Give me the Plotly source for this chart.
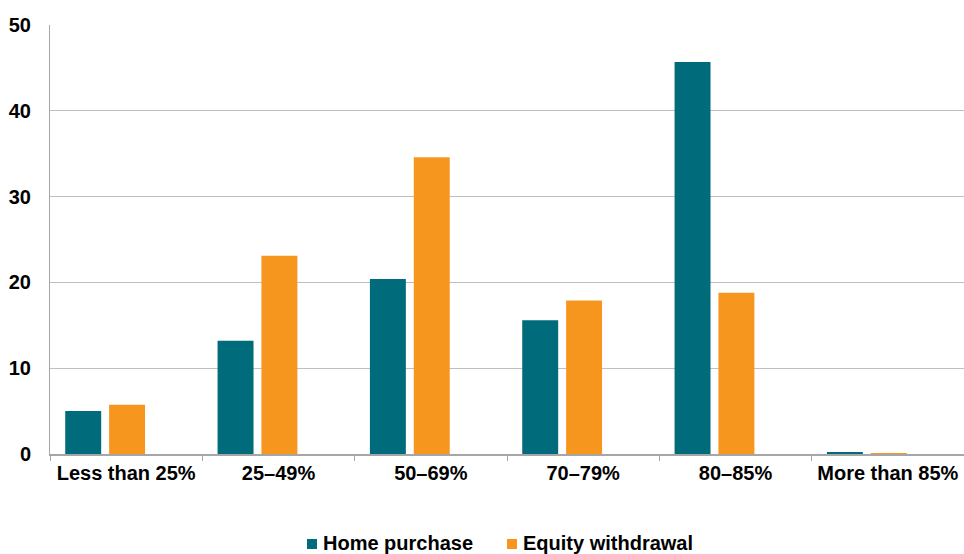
import plotly.graph_objects as go

# Loan-to-valuation ratio bands and share of loans (%)
categories = ["Less than 25%", "25–49%", "50–69%", "70–79%", "80–85%", "More than 85%"]
home_purchase = [5.0, 13.2, 20.4, 15.6, 45.7, 0.2]
equity_withdrawal = [5.75, 23.1, 34.6, 17.9, 18.8, 0.1]
y_ticks = [0, 10, 20, 30, 40, 50]
series_names = ["Home purchase", "Equity withdrawal"]

TEAL = "#006B7B"
ORANGE = "#F7961E"
FONT = "Liberation Sans, Arial, sans-serif"

fig = go.Figure()
fig.add_trace(go.Bar(
    x=categories, y=home_purchase, name=series_names[0],
    marker=dict(color=TEAL, line=dict(width=0)),
    width=0.236, offset=-0.40, showlegend=False,
))
fig.add_trace(go.Bar(
    x=categories, y=equity_withdrawal, name=series_names[1],
    marker=dict(color=ORANGE, line=dict(width=0)),
    width=0.236, offset=-0.112, showlegend=False,
))

# Legend drawn below the plot: a square key followed by the series name
legend_keys = [(0.2812, TEAL, series_names[0]), (0.5000, ORANGE, series_names[1])]
key_w, key_h = 10 / 914, 10 / 429
key_y0 = -0.2214
for x0, color, label in legend_keys:
    fig.add_shape(
        type="rect", xref="paper", yref="paper",
        x0=x0, x1=x0 + key_w, y0=key_y0, y1=key_y0 + key_h,
        fillcolor=color, line=dict(width=0),
    )
    fig.add_annotation(
        xref="paper", yref="paper", x=x0 + 14 / 914, y=-0.2086,
        xanchor="left", yanchor="middle", showarrow=False, text=f"<b>{label}</b>",
        font=dict(family=FONT, size=20, color="black"),
    )

fig.update_layout(
    width=964, height=554,
    margin=dict(l=50, r=0, t=25, b=100),
    plot_bgcolor="white", paper_bgcolor="white",
    font=dict(family=FONT, size=20, color="black"),
    barmode="overlay",
    showlegend=False,
    xaxis=dict(
        type="category", tickson="boundaries",
        ticks="outside", ticklen=5, tickcolor="#A6A6A6", tickwidth=1,
        showline=True, linecolor="#A6A6A6", linewidth=1.5,
        showgrid=False,
        tickfont=dict(family=FONT, size=20, color="black", weight="bold"),
    ),
    yaxis=dict(
        range=[0, 50], tickvals=y_ticks,
        showgrid=True, gridcolor="#BFBFBF", gridwidth=1,
        showline=True, linecolor="#A6A6A6", linewidth=1,
        zeroline=False, ticks="", ticklabelstandoff=14,
        tickfont=dict(family=FONT, size=20, color="black", weight="bold"),
    ),
)

fig.write_html("out.html")
